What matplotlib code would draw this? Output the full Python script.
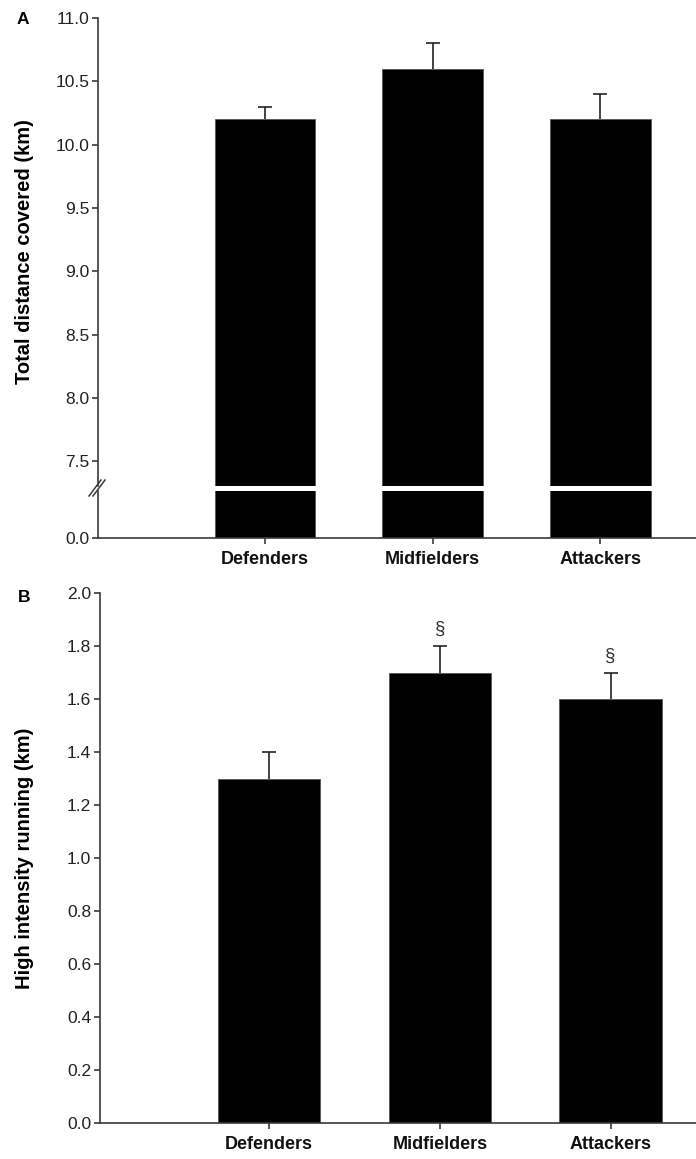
import numpy as np
import matplotlib
matplotlib.use("Agg")
import matplotlib.pyplot as plt

plt.rcParams['font.family'] = ['Liberation Sans', 'DejaVu Sans']

positions = ["Defenders", "Midfielders", "Attackers"]
total_dist = [10.2, 10.6, 10.2]
total_err = [0.1, 0.2, 0.2]
hir = [1.3, 1.7, 1.6]
hir_err = [0.1, 0.1, 0.1]
hir_sig = ["", "\u00a7", "\u00a7"]

W, H = 696, 1159
fig = plt.figure(figsize=(W / 100, H / 100), dpi=100)

def fx(px):
    return px / W

def fy(py):
    return 1 - py / H

x = np.arange(len(positions))
bw = 0.6
spine_col = "#3a3a3a"
tick_fs = 12.5
xlab_fs = 13
ylab_fs = 14.5

def style(ax, xlim):
    for s in ["top", "right"]:
        ax.spines[s].set_visible(False)
    for s in ["left", "bottom"]:
        ax.spines[s].set_color(spine_col)
        ax.spines[s].set_linewidth(1.2)
    ax.tick_params(axis="y", direction="out", length=4.3, width=1.2, color=spine_col,
                   labelsize=tick_fs, pad=2, labelcolor="#222222")
    ax.tick_params(axis="x", direction="out", length=4.3, width=1.2, color=spine_col,
                   labelsize=xlab_fs, pad=5, labelcolor="#111111")
    ax.set_xlim(*xlim)

def up_errors(ax, vals, errs):
    # only the upper half of the error bar, capped on top
    eb = ax.errorbar(x, vals, yerr=[np.zeros(len(vals)), errs], fmt="none", ecolor="#222222",
                     elinewidth=1.2, capsize=5.3, capthick=1.2)
    eb[1][0].set_visible(False)

# panel A, upper part
xlimA = (-0.997, 2.57)
leftA = fx(98)
axA = fig.add_axes([leftA, fy(486), 1 - leftA, fy(18) - fy(486)])
axA.bar(x, total_dist, width=bw, color="black", edgecolor="#555555", linewidth=0.6)
up_errors(axA, total_dist, total_err)
axA.set_ylim(7.305, 11.0)
ticksA = np.arange(7.5, 11.01, 0.5)
axA.set_yticks(ticksA)
axA.set_yticklabels(["%.1f" % v for v in ticksA])
style(axA, xlimA)
axA.spines["bottom"].set_visible(False)
axA.set_xticks([])

# panel A, lower part
axA2 = fig.add_axes([leftA, fy(538), 1 - leftA, fy(491) - fy(538)])
axA2.bar(x, total_dist, width=bw, color="black", edgecolor="#555555", linewidth=0.6)
axA2.set_ylim(0, 0.37)
axA2.set_yticks([0.0])
axA2.set_yticklabels(["0.0"])
style(axA2, xlimA)
axA2.set_xticks(x)
axA2.set_xticklabels(positions, fontweight="bold")

# break marks on the y axis
for dx in (-2, 2):
    fig.add_artist(plt.Line2D([fx(91 + dx), fx(103 + dx)], [fy(496), fy(480)],
                              color=spine_col, lw=1.1))

fig.text(fx(25), (fy(18) + fy(486)) / 2, "Total distance covered (km)", rotation=90,
         ha="center", va="center", fontsize=ylab_fs, fontweight="bold")
fig.text(fx(23), fy(20), "A", fontsize=12.5, fontweight="bold", ha="center", va="center")

# panel B
xlimB = (-0.99, 2.5)
leftB = fx(100)
axB = fig.add_axes([leftB, fy(1123), 1 - leftB, fy(593) - fy(1123)])
axB.bar(x, hir, width=bw, color="black", edgecolor="#555555", linewidth=0.6)
up_errors(axB, hir, hir_err)
for xi, v, e, s in zip(x, hir, hir_err, hir_sig):
    if s:
        axB.text(xi, v + e + 0.03, s, ha="center", va="bottom", fontsize=13.5, color="#333333")
axB.set_ylim(0, 2.0)
ticksB = np.arange(0, 2.01, 0.2)
axB.set_yticks(ticksB)
axB.set_yticklabels(["%.1f" % v for v in ticksB])
style(axB, xlimB)
axB.set_xticks(x)
axB.set_xticklabels(positions, fontweight="bold")

fig.text(fx(25), (fy(593) + fy(1123)) / 2, "High intensity running (km)", rotation=90,
         ha="center", va="center", fontsize=ylab_fs, fontweight="bold")
fig.text(fx(24), fy(597), "B", fontsize=12.5, fontweight="bold", ha="center", va="center")

fig.savefig("out.png", dpi=100)
